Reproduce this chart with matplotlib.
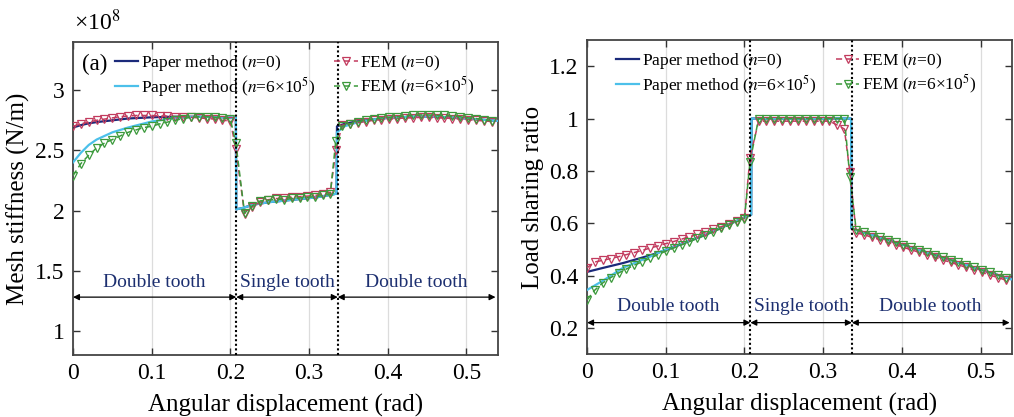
import matplotlib
matplotlib.use("Agg")
import matplotlib.pyplot as plt

plt.rcParams['font.family'] = ['Liberation Serif', 'DejaVu Serif']
plt.rcParams['mathtext.fontset'] = 'stix'

# ---------------- data ----------------
# FEM sample positions (rad)
x_fem = [0.000, 0.010, 0.020, 0.030, 0.040, 0.050, 0.060, 0.070, 0.080, 0.090,
         0.100, 0.110, 0.120, 0.130, 0.140, 0.150, 0.160, 0.170, 0.180, 0.190,
         0.200, 0.207,
         0.218, 0.228, 0.238, 0.248, 0.258, 0.268, 0.278, 0.288, 0.298, 0.308,
         0.318, 0.327, 0.334,
         0.342, 0.352, 0.362, 0.372, 0.382, 0.392, 0.402, 0.412, 0.422, 0.432,
         0.442, 0.452, 0.462, 0.472, 0.482, 0.492, 0.502, 0.512, 0.522, 0.532]

# (a) mesh stiffness, x1e8 N/m
stiff_fem_n0 = [2.70, 2.72, 2.735, 2.75, 2.76, 2.77, 2.78, 2.785, 2.79, 2.79,
                2.79, 2.785, 2.785, 2.78, 2.78, 2.775, 2.77, 2.765, 2.76, 2.75,
                2.745, 2.51,
                1.975, 2.03, 2.07, 2.09, 2.10, 2.10, 2.11, 2.115, 2.12, 2.125,
                2.14, 2.15, 2.50,
                2.71, 2.72, 2.73, 2.74, 2.75, 2.755, 2.76, 2.765, 2.77, 2.77,
                2.775, 2.775, 2.77, 2.77, 2.765, 2.76, 2.755, 2.75, 2.745, 2.74]
stiff_fem_n6 = [2.29, 2.39, 2.46, 2.52, 2.56, 2.59, 2.62, 2.65, 2.67, 2.69,
                2.70, 2.72, 2.735, 2.75, 2.765, 2.775, 2.78, 2.78, 2.775, 2.77,
                2.76, 2.56,
                1.98, 2.04, 2.08, 2.085, 2.095, 2.09, 2.10, 2.105, 2.11, 2.115,
                2.125, 2.135, 2.58,
                2.70, 2.72, 2.74, 2.75, 2.76, 2.77, 2.775, 2.78, 2.785, 2.79,
                2.795, 2.795, 2.79, 2.79, 2.785, 2.78, 2.77, 2.765, 2.755, 2.745]

x_pm_a = [0.000, 0.010, 0.020, 0.030, 0.050, 0.070, 0.100, 0.130, 0.160, 0.190,
          0.207, 0.2075, 0.215, 0.230, 0.250, 0.280, 0.310, 0.335, 0.3355,
          0.345, 0.360, 0.380, 0.400, 0.430, 0.460, 0.490, 0.520, 0.540]
stiff_pm_n0 = [2.69, 2.71, 2.725, 2.735, 2.75, 2.765, 2.775, 2.78, 2.78, 2.775,
               2.77, 2.01, 2.02, 2.05, 2.07, 2.09, 2.11, 2.14, 2.70,
               2.72, 2.74, 2.755, 2.77, 2.78, 2.78, 2.77, 2.755, 2.745]
stiff_pm_n6 = [2.40, 2.48, 2.545, 2.59, 2.65, 2.69, 2.74, 2.77, 2.78, 2.775,
               2.77, 2.01, 2.02, 2.05, 2.07, 2.09, 2.11, 2.14, 2.65,
               2.70, 2.73, 2.755, 2.77, 2.78, 2.78, 2.77, 2.755, 2.745]

# (b) load sharing ratio
lsr_fem_n0 = [0.43, 0.452, 0.458, 0.465, 0.472, 0.48, 0.488, 0.496, 0.505, 0.513,
              0.522, 0.53, 0.539, 0.548, 0.557, 0.566, 0.576, 0.586, 0.597, 0.608,
              0.62, 0.85,
              0.99, 0.99, 0.99, 0.99, 0.99, 0.99, 0.99, 0.99, 0.99, 0.99,
              0.975, 0.96, 0.795,
              0.563, 0.556, 0.546, 0.537, 0.527, 0.518, 0.508, 0.498, 0.489, 0.479,
              0.47, 0.46, 0.45, 0.441, 0.431, 0.421, 0.412, 0.402, 0.392, 0.383]
lsr_fem_n6 = [0.307, 0.345, 0.372, 0.392, 0.41, 0.425, 0.44, 0.452, 0.466, 0.48,
              0.493, 0.505, 0.517, 0.53, 0.542, 0.555, 0.567, 0.58, 0.592, 0.605,
              0.617, 0.834,
              1.0, 1.0, 1.0, 1.0, 1.0, 1.0, 1.0, 1.0, 1.0, 1.0,
              1.0, 1.0, 0.776,
              0.575, 0.566, 0.556, 0.547, 0.537, 0.527, 0.518, 0.508, 0.499, 0.489,
              0.479, 0.47, 0.46, 0.45, 0.441, 0.431, 0.421, 0.412, 0.402, 0.392]

x_pm_b = [0.000, 0.020, 0.046, 0.080, 0.100, 0.150, 0.200, 0.2085, 0.209,
          0.3355, 0.336, 0.360, 0.400, 0.450, 0.500, 0.540]
lsr_pm_n0 = [0.414, 0.429, 0.448, 0.477, 0.497, 0.555, 0.622, 0.632, 1.0,
             1.0, 0.58, 0.557, 0.519, 0.471, 0.423, 0.385]
lsr_pm_n6 = [0.345, 0.38, 0.43, 0.472, 0.50, 0.556, 0.622, 0.632, 1.0,
             1.0, 0.58, 0.557, 0.519, 0.471, 0.423, 0.385]

x_ticks = [0, 0.1, 0.2, 0.3, 0.4, 0.5]
x_ticklabels = ['0', '0.1', '0.2', '0.3', '0.4', '0.5']
ya_ticks = [1, 1.5, 2, 2.5, 3]
ya_ticklabels = ['1', '1.5', '2', '2.5', '3']
yb_ticks = [0.2, 0.4, 0.6, 0.8, 1.0, 1.2]
yb_ticklabels = ['0.2', '0.4', '0.6', '0.8', '1', '1.2']
boundaries = [0.2075, 0.3365]
regions = [(0.0, 0.2075, 'Double tooth'), (0.2075, 0.3365, 'Single tooth'),
           (0.3365, 0.537, 'Double tooth')]

labels = ['Paper method ($n$=0)', 'Paper method ($n$=6×10$^5$)',
          'FEM ($n$=0)', 'FEM ($n$=6×10$^5$)']

# ---------------- style ----------------
C_NAVY = '#1b2a7a'
C_CYAN = '#4cc0ea'
C_RED = '#c23b5e'
C_GREEN = '#3c9a3c'
C_TEXT = '#1c2f70'

fig = plt.figure(figsize=(10.14, 4.17), dpi=100)
axA = fig.add_axes([0.072, 0.149, 0.419, 0.750])
axB = fig.add_axes([0.579, 0.151, 0.419, 0.753])


def draw(ax, xf, f0, f6, xp, p0, p6, ylim, yticks, yticklabels, ylabel,
         arrow_y, text_y, leg_anchor):
    ax.set_xlim(0, 0.54)
    ax.set_ylim(*ylim)
    for xv in x_ticks:
        ax.axvline(xv, color='#dcdcdc', lw=0.9, zorder=0)
    h1, = ax.plot(xp, p0, color=C_NAVY, lw=1.6, zorder=2)
    h2, = ax.plot(xp, p6, color=C_CYAN, lw=1.6, zorder=3)
    h3, = ax.plot(xf, f0, color=C_RED, lw=1.1, ls=(0, (4, 2.5)), marker='v',
                  ms=6.3, mfc='none', mec=C_RED, mew=0.9, zorder=4)
    h4, = ax.plot(xf, f6, color=C_GREEN, lw=1.1, ls=(0, (4, 2.5)), marker='v',
                  ms=6.3, mfc='none', mec=C_GREEN, mew=0.9, zorder=5)
    for b in boundaries:
        ax.axvline(b, color='black', lw=1.5, ls=(0, (1, 1.2)), zorder=6)
    for (x0, x1, txt) in regions:
        ax.annotate('', xy=(x1, arrow_y), xytext=(x0, arrow_y),
                    arrowprops=dict(arrowstyle='<|-|>', color='black', lw=0.9,
                                    mutation_scale=9, shrinkA=0, shrinkB=0),
                    zorder=7)
        ax.text((x0 + x1) / 2, text_y, txt, color=C_TEXT, fontsize=14,
                ha='center', va='bottom')
    ax.set_xticks(x_ticks)
    ax.set_xticklabels(x_ticklabels)
    ax.set_yticks(yticks)
    ax.set_yticklabels(yticklabels)
    ax.tick_params(direction='in', top=True, right=True, length=5, width=1,
                   labelsize=17, color='#333333', pad=6)
    for s in ax.spines.values():
        s.set_color('#444444')
        s.set_linewidth(1.3)
    ax.set_xlabel('Angular displacement (rad)', fontsize=18, labelpad=7)
    ax.set_ylabel(ylabel, fontsize=18, labelpad=4)
    leg = ax.legend([h1, h2, h3, h4], labels, ncol=2, loc='upper left',
                    bbox_to_anchor=leg_anchor, frameon=False, fontsize=12.5,
                    handlelength=1.35, handletextpad=0.15, columnspacing=1.1,
                    labelspacing=0.1, borderaxespad=0, borderpad=0)
    leg.set_zorder(10)


draw(axA, x_fem, stiff_fem_n0, stiff_fem_n6, x_pm_a, stiff_pm_n0, stiff_pm_n6,
     (0.8, 3.4), ya_ticks, ya_ticklabels, 'Mesh stiffness (N/m)',
     1.28, 1.335, (0.098, 0.965))
draw(axB, x_fem, lsr_fem_n0, lsr_fem_n6, x_pm_b, lsr_pm_n0, lsr_pm_n6,
     (0.1, 1.3), yb_ticks, yb_ticklabels, 'Load sharing ratio',
     0.22, 0.25, (0.068, 0.965))

axA.text(0.022, 0.93, '(a)', transform=axA.transAxes, fontsize=16.5,
         ha='left', va='center')
fig.text(0.073, 0.915, '×10$^8$', fontsize=17, ha='left', va='bottom')

fig.savefig('out.png', dpi=100)
